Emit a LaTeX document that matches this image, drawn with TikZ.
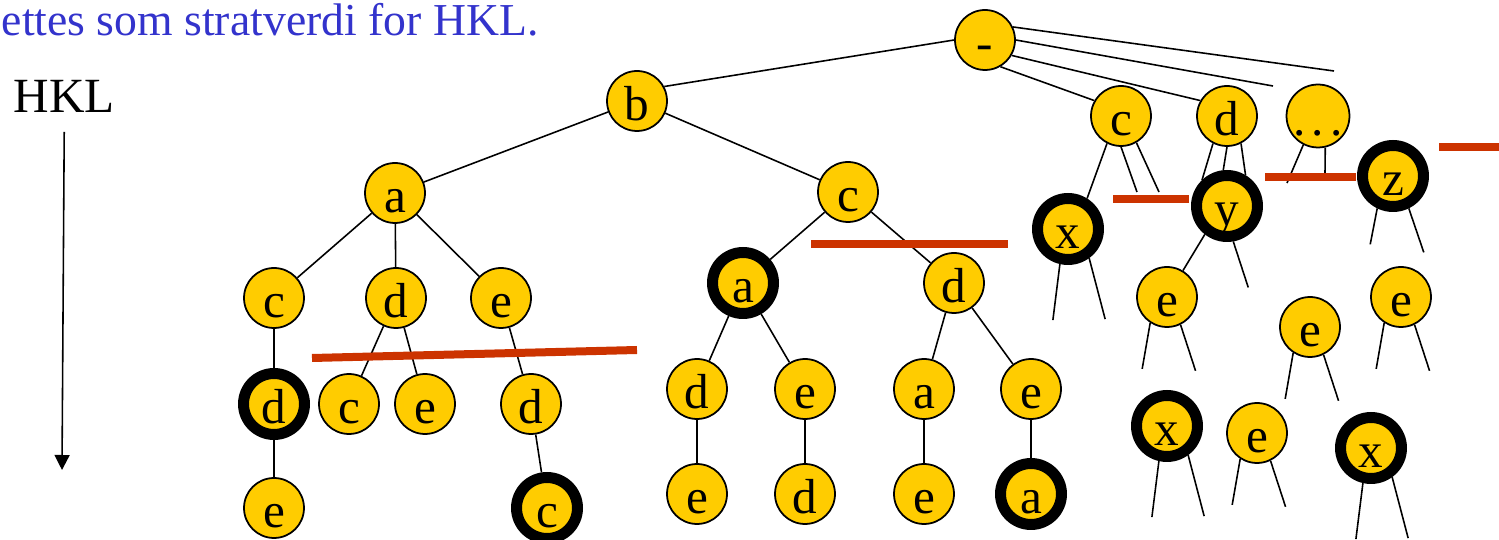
\documentclass[tikz,border=0pt]{standalone}
\usepackage{fontspec}
\setmainfont{Liberation Serif}
\usetikzlibrary{arrows.meta}
\definecolor{knutegul}{RGB}{255,204,0}
\definecolor{kuttrod}{RGB}{204,51,0}
\definecolor{tittelblaa}{RGB}{51,51,204}
\tikzset{
	knute/.style={circle,draw,fill=knutegul,minimum size=1.2cm,inner sep=0pt,line width=1pt,
		text height=0.8cm,text depth=0pt,font=\fontsize{28}{30}\selectfont},
	mal/.style={knute,minimum size=1.22cm,line width=0.22cm},
	kutt/.style={kuttrod,line width=0.16cm},
}

\begin{document}
\begin{tikzpicture}[x=0.02cm,y=-0.02cm,line width=0.9pt]
	\useasboundingbox (0,0) rectangle (1499,540);
	\node[anchor=base west,inner sep=0pt,text=tittelblaa,font=\fontsize{26}{30}\selectfont] (tittel) at (1,36) {ettes som stratverdi for HKL.};
	\node[anchor=base west,inner sep=0pt,font=\fontsize{28}{30}\selectfont] (hkl) at (13,113) {HKL};
	\coordinate (hklslutt) at (62,470);
	\draw[-{Triangle[length=0.3cm,width=0.3cm]},shorten <=0.36cm] (hkl.south) -- (hklslutt);
	% venstre del av treet
	\node[knute] (rot) at (985,40) {-};
	\node[knute] (b) at (637,101) {b};
	\node[knute] (a1) at (395,193) {a};
	\node[knute] (c1) at (848,192) {c};
	\node[knute] (c2) at (274,298) {c};
	\node[knute] (d2) at (396,298) {d};
	\node[knute] (e2) at (501,298) {e};
	\node[mal] (d3) at (274,404) {d};
	\node[knute] (e3) at (274,508) {e};
	\node[knute] (c4) at (349,404) {c};
	\node[knute] (e4) at (425,404) {e};
	\node[knute] (d5) at (531,404) {d};
	\node[mal] (c5) at (547,508) {c};
	\node[mal] (a6) at (743,283) {a};
	\node[knute] (d6) at (954,283) {d};
	\node[knute] (d7) at (697,389) {d};
	\node[knute] (e7) at (805,389) {e};
	\node[knute] (e8) at (697,494) {e};
	\node[knute] (d8) at (805,494) {d};
	\node[knute] (a9) at (924,389) {a};
	\node[knute] (e9) at (1031,389) {e};
	\node[knute] (e10) at (924,494) {e};
	\node[mal] (a10) at (1031,494) {a};
	% hoeyre del
	\node[knute] (cR) at (1121,116) {c};
	\node[knute] (dR) at (1227,116) {d};
	\node[knute] (dots) at (1318,116) {.\kern0.12em.\kern0.12em.};
	\node[mal] (xR1) at (1068,229) {x};
	\node[mal] (yR) at (1227,206) {y};
	\node[mal] (zR) at (1393,176) {z};
	\node[knute] (eR1) at (1167,297) {e};
	\node[knute] (eR2) at (1310,327) {e};
	\node[knute] (eR3) at (1401,297) {e};
	\node[mal] (xR2) at (1167,426) {x};
	\node[knute] (eR4) at (1257,433) {e};
	\node[mal] (xR3) at (1371,448) {x};
	\draw (rot.180) -- (b.28);
	\draw (b) -- (a1);
	\draw (b) -- (c1);
	\foreach \m in {c2,d2,e2}
		\draw (a1) -- (\m);
	\draw (c2) -- (d3);
	\draw (d3) -- (e3);
	\draw (d2) -- (c4);
	\draw (d2) -- (e4);
	\draw (e2) -- (d5);
	\draw (d5) -- (c5);
	\draw (c1) -- (a6);
	\draw (c1) -- (d6);
	\draw (a6) -- (d7);
	\draw (a6) -- (e7);
	\draw (d7) -- (e8);
	\draw (e7) -- (d8);
	\draw (d6) -- (a9);
	\draw (d6) -- (e9);
	\draw (a9) -- (e10);
	\draw (e9) -- (a10);
	\coordinate (rs1) at (1334,71);
	\coordinate (rs2) at (1273,86);
	\coordinate (cs1) at (1137,192);
	\coordinate (cs2) at (1159,192);
	\coordinate (ps1) at (1287,183);
	\coordinate (ps2) at (1325,173);
	\draw (rot.25) -- (rs1);
	\draw (rot.0) -- (rs2);
	\draw (rot.300) -- (cR.150);
	\draw (rot.330) -- (dR.150);
	\draw (cR.243) -- (xR1.58);
	\draw (cR.270) -- (cs1);
	\draw (cR.300) -- (cs2);
	\draw (dR.243) -- (yR.134);
	\draw (dR.270) -- (yR.96);
	\draw (dR.297) -- (yR.59);
	\draw (dots.243) -- (ps1);
	\draw (dots.283) -- (ps2);
	\draw (yR.232) -- (eR1);
	\draw (yR.280) -- ++(15,46) coordinate (yR-h);
	\draw (zR.244) -- ++(-7,36) coordinate (zR-v);
	\draw (zR.296) -- ++(15,44) coordinate (zR-h);
	\foreach \n in {eR1,eR2,eR3,eR4} {
		\draw (\n.237) -- ++(-8,46) coordinate (\n-v);
		\draw (\n.296) -- ++(15,46) coordinate (\n-h);
	}
	\foreach \n in {xR1,xR2,xR3} {
		\draw (\n.257) -- ++(-7,56) coordinate (\n-v);
		\draw (\n.306) -- ++(16,61) coordinate (\n-h);
	}
	% kuttlinjer
	\draw[kutt] (312,358) -- (637,350);
	\draw[kutt] (811,244) -- (1008,244);
	\draw[kutt] (1113,199) -- (1189,199);
	\draw[kutt] (1265,177) -- (1356,177);
	\draw[kutt] (1439,147) -- (1499,147);
\end{tikzpicture}
\end{document}
